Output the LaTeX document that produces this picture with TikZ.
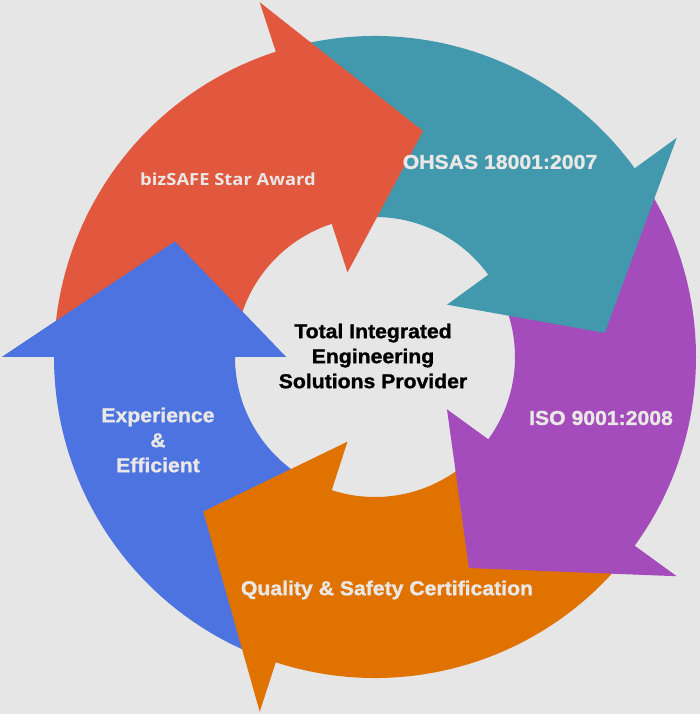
\documentclass[tikz,border=0pt]{standalone}
\usepackage{fontspec}
\setmainfont{Liberation Sans}
\newfontfamily\labelfont[BoldFeatures={FakeStretch=1.06,FakeBold=1.2}]{Liberation Sans}
\newfontfamily\awardfont[BoldFeatures={FakeStretch=1.1}]{Open Sans}
\usepackage{xcolor}
\usepackage{tikz}
\usetikzlibrary{positioning}

\definecolor{bggray}{RGB}{230,230,230}
\definecolor{labelgray}{RGB}{234,232,230}
\definecolor{awardred}{RGB}{225,88,62}
\definecolor{ohsasteal}{RGB}{66,153,174}
\definecolor{isopurple}{RGB}{164,76,188}
\definecolor{qualityorange}{RGB}{224,114,0}
\definecolor{expblue}{RGB}{77,115,224}

\begin{document}
\begin{tikzpicture}[x=1pt, y=1pt,
		every node/.style={align=center, inner sep=0pt},
		ringlabel/.style={text=labelgray, font=\labelfont\bfseries\fontsize{20}{25}\selectfont},
		hublabel/.style={text=black, font=\labelfont\bfseries\fontsize{20}{25}\selectfont}]
				\fill [bggray] (-375,-357) rectangle (325,357);
				\useasboundingbox (-375,-357) rectangle (325,357);
				
				% arrows, drawn backwards round the ring so each head lies on the next body
				\fill [expblue] (-108:321) arc (-108:-180:321) -- (180:373) -- (150:231) -- (180:89) -- (180:140) arc (-180:-108:140) -- cycle;
				\fill [qualityorange] (-36:321) arc (-36:-108:321) -- (-108:373) -- (-138:231) -- (-108:89) -- (-108:140) arc (-108:-36:140) -- cycle;
				\fill [isopurple] (36:321) arc (36:-36:321) -- (-36:373) -- (-66:231) -- (-36:89) -- (-36:140) arc (-36:36:140) -- cycle;
				\fill [ohsasteal] (108:321) arc (108:36:321) -- (36:373) -- (6:231) -- (36:89) -- (36:140) arc (36:108:140) -- cycle;
				\fill [awardred] (180:321) arc (180:108:321) -- (108:373) -- (78:231) -- (108:89) -- (108:140) arc (108:180:140) -- cycle;
				
				% blue head once more, over the red tail
				\fill [expblue] (180:373) -- (150:231) -- (180:89) -- cycle;
				
				\node [text=labelgray, font=\awardfont\bfseries\fontsize{16.7}{20}\selectfont] (award) at (-147,178) {bizSAFE Star Award};
				\node [ringlabel] (ohsas) at (125,195) {OHSAS 18001:2007};
				\node [ringlabel] (iso) at (226,-61) {ISO 9001:2008};
				\node [ringlabel] (quality) at (12,-233) {Quality \& Safety Certification};
				\node [ringlabel] (experience) at (-217,-83) {Experience\\\&\\Efficient};
				\node [hublabel] (hub) at (-2,1) {Total Integrated\\Engineering\\Solutions Provider};
\end{tikzpicture}
\end{document}
